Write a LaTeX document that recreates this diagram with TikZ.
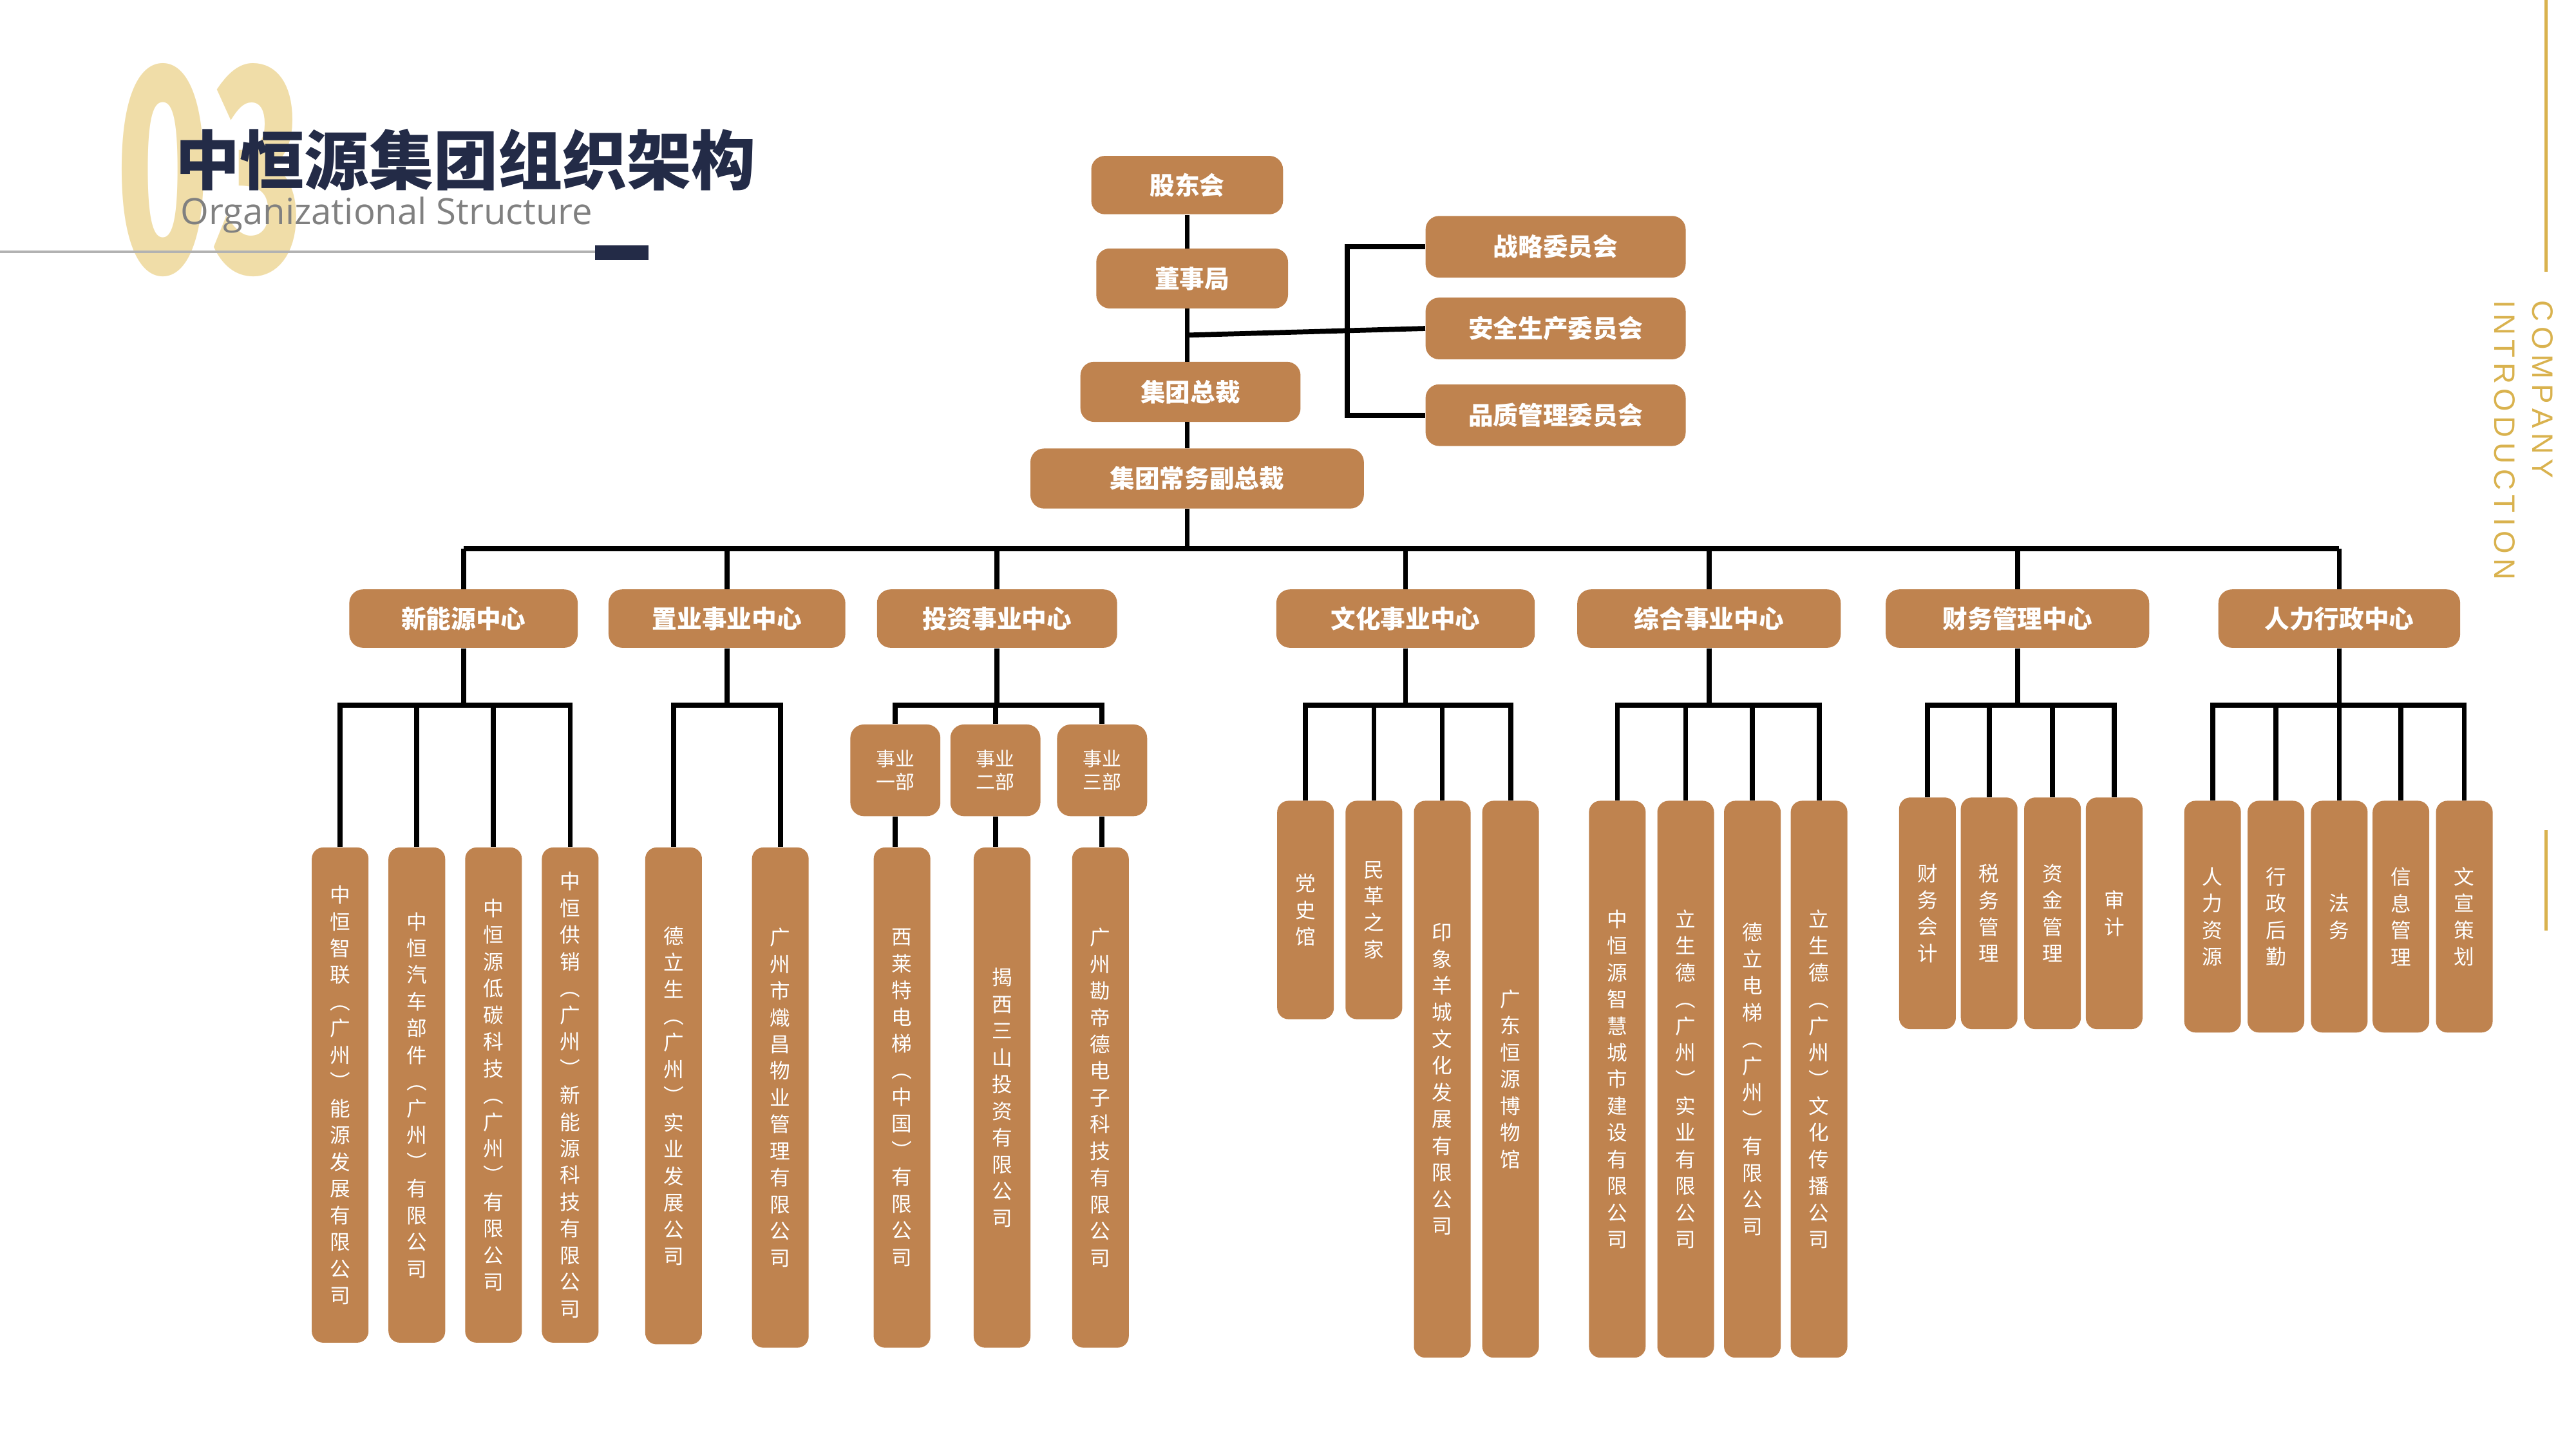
\documentclass[tikz,border=0pt]{standalone}
\usepackage{fontspec}
\usepackage{xparse}
\setmainfont{Noto Sans CJK SC}
\newfontfamily\latinfont{Open Sans}
\newfontfamily\capsfont{Liberation Sans}
\usetikzlibrary{positioning}
\definecolor{boxbrown}{HTML}{BF834F}
\definecolor{navy}{HTML}{232B47}
\definecolor{gold}{HTML}{D9B24E}
\definecolor{palegold}{HTML}{F0DDA8}
\newcommand\un{0.02589cm}
\ExplSyntaxOn
\cs_new:Npn \hy_vert:n #1
  {
    \seq_clear:N \l_tmpa_seq
    \tl_map_inline:nn {#1} { \seq_put_right:Nn \l_tmpa_seq {##1} }
    \seq_use:Nn \l_tmpa_seq { \\ }
  }
\NewDocumentCommand \vtxt { m } { \exp_args:No \hy_vert:n {#1} }
\ExplSyntaxOff
\tikzset{
  box/.style={fill=boxbrown, rounded corners=6pt, text=white, font=\bfseries\fontsize{11}{13}\selectfont,
    inner sep=0pt},
  leaf/.style={fill=boxbrown, rounded corners=5pt, text=white, font=\fontsize{9}{11.8}\selectfont,
    align=center, inner sep=0pt, minimum width=34*\un, anchor=north},
  dept/.style={fill=boxbrown, rounded corners=6pt, text=white, font=\fontsize{8.5}{10.5}\selectfont,
    align=center, inner sep=0pt, minimum width=54*\un, minimum height=55*\un},
  wire/.style={line width=2.2pt, black},
}
\begin{document}
\begin{tikzpicture}[x=\un, y=-\un]
\useasboundingbox (0,0) rectangle (1545,869);
% title block
\node[text=palegold, font=\bfseries\fontsize{125}{125}\selectfont, xscale=0.55, anchor=center] at (126,102) {03};
\draw[gray!60, line width=1pt] (0,151) -- (360,151);
\fill[navy] (357,147) rectangle (389,156);
\node[anchor=west, text=navy, font=\bfseries\fontsize{28.5}{29}\selectfont, inner sep=0pt] (title) at (105,96) {中恒源集团组织架构};
\node[anchor=west, text=gray, font=\latinfont\fontsize{16}{16}\selectfont, inner sep=0pt] (subtitle) at (108,129) {Organizational Structure};
% side decoration
\draw[gold, line width=1.2pt] (1527,0) -- (1527,163);
\draw[gold, line width=1.2pt] (1527,498) -- (1527,558);
\node[rotate=-90, anchor=west, text=gold, font=\capsfont\fontsize{13}{13}\selectfont, inner sep=0pt] (co) at (1525,180) {C\,O\,M\,P\,A\,N\,Y};
\node[rotate=-90, anchor=west, text=gold, font=\capsfont\fontsize{13}{13}\selectfont, inner sep=0pt] (intro) at (1502,180) {I\,N\,T\,R\,O\,D\,U\,C\,T\,I\,O\,N};

% top of the tree
\node[box, minimum width=115*\un, minimum height=35*\un] (holders) at (712,111) {股东会};
\node[box, minimum width=115*\un, minimum height=36*\un] (board) at (715,167) {董事局};
\node[box, minimum width=132*\un, minimum height=36*\un] (ceo) at (714,235) {集团总裁};
\node[box, minimum width=200*\un, minimum height=36*\un] (evp) at (718,287) {集团常务副总裁};
\node[box, minimum width=156*\un, minimum height=37*\un] (strat) at (933,148) {战略委员会};
\node[box, minimum width=156*\un, minimum height=37*\un] (safe) at (933,197) {安全生产委员会};
\node[box, minimum width=156*\un, minimum height=37*\un] (qual) at (933,249) {品质管理委员会};
\draw[wire] (712,129) -- (712,149) (712,185) -- (712,217) (712,253) -- (712,269);
\draw[wire] (712,201) -- (safe.west);
\draw[wire] (strat.west) -- (808,148) -- (808,249) -- (qual.west);

% centres
\coordinate (bus) at (0,329);
\coordinate (sub) at (0,423);
\foreach \n/\x/\w/\t in {ne/278/137/新能源中心, re/436/142/置业事业中心, iv/598/144/投资事业中心,
    cu/843/155/文化事业中心, gi/1025/158/综合事业中心, fi/1210/158/财务管理中心, hr/1403/145/人力行政中心}{
  \node[box, minimum width=\w*\un, minimum height=35*\un] (\n) at (\x,371) {\t};
  \draw[wire] (\n.north) -- (\n.north |- bus);
}
\draw[wire] (712,305) -- (712,329);
\draw[wire] (ne.north |- bus) -- (hr.north |- bus);

% investment departments
\node[dept] (d1) at (537,462) {事业\\一部};
\node[dept] (d2) at (597,462) {事业\\二部};
\node[dept] (d3) at (661,462) {事业\\三部};
\draw[wire] (iv.south) -- (iv.south |- sub);
\draw[wire] (d1.north) |- (d3.north |- sub) -- (d3.north);
\draw[wire] (d2.north) -- (d2.north |- sub);

% leaves
\foreach \p/\n/\x/\top/\h/\t in {
    ne/ne1/204/508/297/中恒智联︵广州︶能源发展有限公司,
    ne/ne2/250/508/297/中恒汽车部件︵广州︶有限公司,
    ne/ne3/296/508/297/中恒源低碳科技︵广州︶有限公司,
    ne/ne4/342/508/297/中恒供销︵广州︶新能源科技有限公司,
    re/re1/404/508/298/德立生︵广州︶实业发展公司,
    re/re2/468/508/300/广州市熾昌物业管理有限公司,
    cu/cu1/783/480/131/党史馆,
    cu/cu2/824/480/131/民革之家,
    cu/cu3/865/480/334/印象羊城文化发展有限公司,
    cu/cu4/906/480/334/广东恒源博物馆,
    gi/gi1/970/480/334/中恒源智慧城市建设有限公司,
    gi/gi2/1011/480/334/立生德︵广州︶实业有限公司,
    gi/gi3/1051/480/334/德立电梯︵广州︶有限公司,
    gi/gi4/1091/480/334/立生德︵广州︶文化传播公司,
    fi/fi1/1156/478/139/财务会计,
    fi/fi2/1193/478/139/税务管理,
    fi/fi3/1231/478/139/资金管理,
    fi/fi4/1268/478/139/审计,
    hr/hr1/1327/480/139/人力资源,
    hr/hr2/1365/480/139/行政后勤,
    hr/hr3/1403/480/139/法务,
    hr/hr4/1440/480/139/信息管理,
    hr/hr5/1478/480/139/文宣策划}{
  \node[leaf, minimum height=\h*\un] (\n) at (\x,\top) {\vtxt{\t}};
  \draw[wire] (\p.south) -- (\p.south |- sub) -| (\n.north);
}
\node[leaf, minimum height=300*\un] (iv1) at (541,508) {\vtxt{西莱特电梯︵中国︶有限公司}};
\node[leaf, minimum height=300*\un] (iv2) at (601,508) {\vtxt{揭西三山投资有限公司}};
\node[leaf, minimum height=300*\un] (iv3) at (660,508) {\vtxt{广州勘帝德电子科技有限公司}};
\draw[wire] (d1.south) -- (d1.south |- iv1.north);
\draw[wire] (d2.south) -- (d2.south |- iv2.north);
\draw[wire] (d3.south) -- (d3.south |- iv3.north);
\end{tikzpicture}
\end{document}
